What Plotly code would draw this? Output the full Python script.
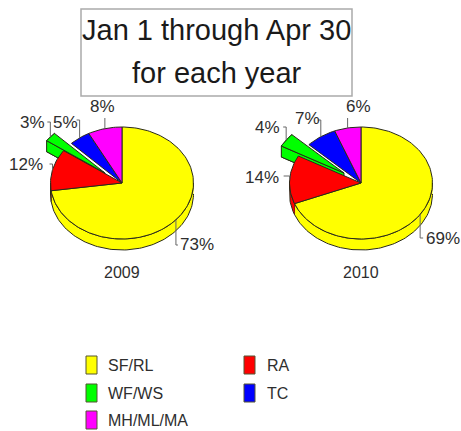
import math
import plotly.graph_objects as go

categories = ["SF/RL", "RA", "WF/WS", "TC", "MH/ML/MA"]
shares_2009 = [72.8, 12.0, 2.7, 4.8, 7.7]
shares_2010 = [69.0, 14.0, 4.0, 7.0, 6.0]
years = ["2009", "2010"]

COLORS = ["#ffff00", "#ff0000", "#00ff00", "#0000ff", "#ff00ff"]
OUTLINE = "#2a2a1a"
TEXT = "#2e2e2e"
LEADER = "#666666"
FONT = "Liberation Sans, Arial, sans-serif"

RX, RY, DEPTH = 71.5, 56, 11
EXPLODE = (-17, -10)
PIES = [
    dict(year=years[0], shares=shares_2009, c=(122, 183), year_xy=(122, 272),
         labels=[(197, 244), (26, 164), (32, 122), (65, 122), (102, 106)],
         leader=[(245, 2), (164, -3), (122, -3), (120, -3), (118, 0)]),
    dict(year=years[1], shares=shares_2010, c=(361, 183), year_xy=(361, 272),
         labels=[(443, 238), (262, 177), (267, 127), (307, 118), (358, 106)],
         leader=[(238, 3), (176, -6), (127, -3), (120, -3), (118, 0)]),
]
LEGEND = [(0, 365), (1, 365), (0, 393), (1, 393), (0, 420)]
LEGEND_COL = [(86, 106), (244, 265)]

fig = go.Figure()


def pt(c, t, off=(0, 0), dy=0):
    return (c[0] + off[0] + RX * math.sin(t), c[1] + off[1] + dy - RY * math.cos(t))


def arc(c, a, b, off=(0, 0), dy=0):
    n = max(2, int(abs(b - a) / 0.03))
    return [pt(c, a + (b - a) * i / n, off, dy) for i in range(n + 1)]


def poly(points, color):
    fig.add_trace(go.Scatter(
        x=[p[0] for p in points], y=[p[1] for p in points], mode="lines", fill="toself",
        fillcolor=color, line=dict(color=OUTLINE, width=1), hoverinfo="skip", showlegend=False))


def side(c, a, b, color, off=(0, 0)):
    a2, b2 = max(a, math.pi / 2), min(b, 3 * math.pi / 2)
    if b2 > a2:
        poly(arc(c, a2, b2, off) + arc(c, b2, a2, off, DEPTH), color)


for pie in PIES:
    c = pie["c"]
    total = sum(pie["shares"])
    spans, cum = [], 0
    for s in pie["shares"]:
        spans.append((cum / total * 2 * math.pi, (cum + s) / total * 2 * math.pi))
        cum += s
    g = categories.index("WF/WS")
    ga, gb = spans[g]
    tip = (c[0] + EXPLODE[0], c[1] + EXPLODE[1])
    tip_low = (tip[0], tip[1] + DEPTH)
    # lower body of the pulled-out slice goes behind the other slices
    poly([tip_low] + arc(c, ga, gb, EXPLODE, DEPTH) + [tip_low], COLORS[g])
    poly(arc(c, ga, gb, EXPLODE) + arc(c, gb, ga, EXPLODE, DEPTH), COLORS[g])
    poly([tip, pt(c, ga, EXPLODE), pt(c, ga, EXPLODE, DEPTH), tip_low, tip], COLORS[g])
    for i, (a, b) in enumerate(spans):
        if i != g:
            side(c, a, b, COLORS[i])
    for i, (a, b) in enumerate(spans):
        if i != g:
            poly([c] + arc(c, a, b) + [c], COLORS[i])
    poly([tip] + arc(c, ga, gb, EXPLODE) + [tip], COLORS[g])

    # leaders and value labels
    for i, (a, b) in enumerate(spans):
        off = EXPLODE if i == g else (0, 0)
        x0, y0 = pt(c, (a + b) / 2, off)
        ly, tick = pie["leader"][i]
        fig.add_trace(go.Scatter(x=[x0, x0, x0 + tick], y=[y0, ly, ly], mode="lines",
                                 line=dict(color=LEADER, width=1), hoverinfo="skip", showlegend=False))
        lx, lyy = pie["labels"][i]
        fig.add_annotation(x=lx, y=lyy, text=f"{round(pie['shares'][i])}%", showarrow=False,
                           font=dict(size=17, color=TEXT, family=FONT))
    fig.add_annotation(x=pie["year_xy"][0], y=pie["year_xy"][1], text=pie["year"], showarrow=False,
                       font=dict(size=16, color=TEXT, family=FONT))

shapes = [dict(type="rect", x0=81, x1=352, y0=9, y1=96, line=dict(color="#aaaaaa", width=1.5),
               fillcolor="white", layer="below")]
for name, color, (col, y) in zip(categories, COLORS, LEGEND):
    sx, tx = LEGEND_COL[col]
    shapes.append(dict(type="rect", x0=sx, x1=sx + 11, y0=y - 9, y1=y + 9, fillcolor=color,
                       line=dict(color="#555533", width=1)))
    fig.add_annotation(x=tx, y=y, text=name, showarrow=False, xanchor="left",
                       font=dict(size=16, color=TEXT, family=FONT))

fig.add_annotation(x=216.5, y=30, text="Jan 1 through Apr 30", showarrow=False,
                   font=dict(size=29, color="#1a1a1a", family=FONT))
fig.add_annotation(x=216.5, y=73, text="for each year", showarrow=False,
                   font=dict(size=29, color="#1a1a1a", family=FONT))

fig.update_layout(
    width=461, height=431, margin=dict(l=0, r=0, t=0, b=0), paper_bgcolor="white", plot_bgcolor="white",
    showlegend=False, shapes=shapes,
    xaxis=dict(range=[0, 461], visible=False, fixedrange=True),
    yaxis=dict(range=[431, 0], visible=False, fixedrange=True),
)
fig.write_html("out.html", config={"displayModeBar": False},
               post_script="document.body.style.margin='0';")
